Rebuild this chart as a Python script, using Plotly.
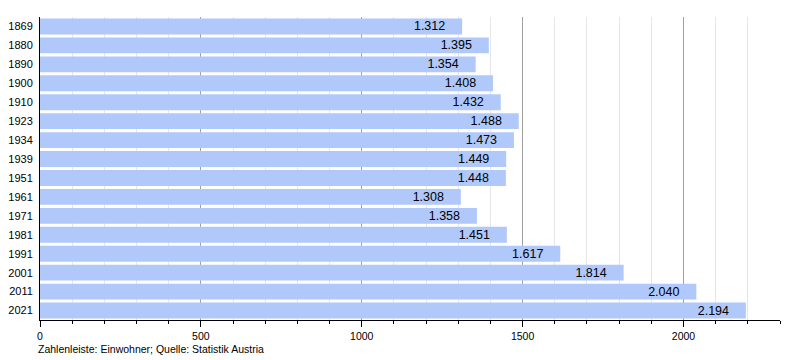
import plotly.graph_objects as go

years = ["1869", "1880", "1890", "1900", "1910", "1923", "1934", "1939", "1951",
         "1961", "1971", "1981", "1991", "2001", "2011", "2021"]
population = [1312, 1395, 1354, 1408, 1432, 1488, 1473, 1449, 1448,
              1308, 1358, 1451, 1617, 1814, 2040, 2194]
labels = [f"{v:,}".replace(",", ".") + "&nbsp;" * 4 for v in population]

fig = go.Figure(go.Bar(
    y=years, x=population, orientation="h",
    marker=dict(color="#b0c8fa", line=dict(width=0)),
    text=labels, textposition="inside", insidetextanchor="end",
    textfont=dict(color="black", size=12.5, family="Liberation Sans, Arial"),
    width=0.84, hoverinfo="skip",
))

# page body has an 8px margin, so the figure is sized/offset to compensate
fig.update_layout(
    width=792, height=352,
    margin=dict(l=32, r=20, t=9, b=40, autoexpand=False),
    paper_bgcolor="white", plot_bgcolor="white",
    font=dict(family="Liberation Sans, Arial", size=11, color="black"),
    showlegend=False,
    uniformtext=dict(minsize=12.5, mode="show"),
)
fig.update_yaxes(
    autorange="reversed", showline=True, linecolor="black", linewidth=1,
    ticks="", showgrid=False, tickfont=dict(size=11), ticklabelstandoff=4,
    automargin=False,
)
fig.update_xaxes(
    range=[0, 2300], showline=True, linecolor="black", linewidth=1,
    dtick=500, tick0=0, ticks="outside", ticklen=6, tickcolor="black",
    showgrid=True, gridcolor="#a0a0a0", gridwidth=1, zeroline=False,
    minor=dict(dtick=100, ticks="outside", ticklen=3, tickcolor="black",
               showgrid=True, gridcolor="#e6e6e6", gridwidth=1),
    tickfont=dict(size=10.5), automargin=False,
)
fig.add_annotation(
    text="Zahlenleiste: Einwohner; Quelle: Statistik Austria",
    xref="paper", yref="paper", x=-0.0054, y=-0.07, xanchor="left", yanchor="top",
    showarrow=False, font=dict(size=10.5, color="black"),
)
fig.write_html("out.html")
